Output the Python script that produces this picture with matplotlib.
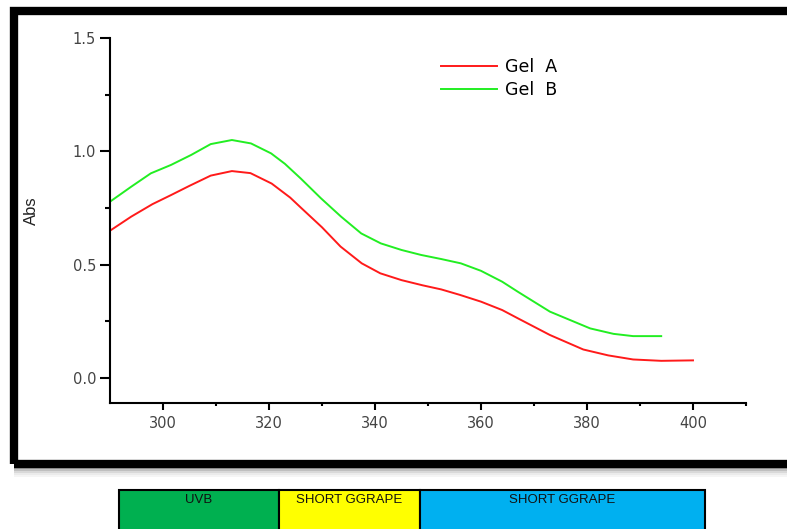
import matplotlib.pyplot as plt
from matplotlib.patches import Rectangle

plt.rcParams['font.family'] = ['Liberation Sans', 'DejaVu Sans']

W, H = 787, 529

# wavelength (nm) and absorbance
wl_a = [290, 294, 298, 301.5, 305, 309, 313, 316.5, 320.5, 324, 326, 330, 333.5,
        337.5, 341, 345, 349, 352.5, 356, 360, 364, 367, 373, 379.3, 384,
        388.7, 394, 400]
abs_a = [0.65, 0.712, 0.767, 0.807, 0.848, 0.893, 0.913, 0.904, 0.858, 0.796, 0.752, 0.665, 0.58,
         0.506, 0.462, 0.432, 0.409, 0.391, 0.367, 0.337, 0.30, 0.263, 0.19, 0.126, 0.10,
         0.082, 0.076, 0.078]

wl_b = [290, 294, 297.7, 301.5, 305.3, 309, 313, 316.6, 320.4, 323, 326, 329.8, 333.6,
        337.4, 341.1, 345, 348.7, 352.5, 356.2, 360, 364, 367, 373, 380.6, 385,
        388.7, 394]
abs_b = [0.778, 0.844, 0.903, 0.94, 0.984, 1.032, 1.05, 1.035, 0.991, 0.945, 0.88, 0.793, 0.712,
         0.638, 0.594, 0.565, 0.543, 0.525, 0.506, 0.473, 0.425, 0.38, 0.293, 0.219, 0.195,
         0.185, 0.185]

labels = ['Gel  A', 'Gel  B']
x_ticks = [300, 320, 340, 360, 380, 400]
y_ticks = [0.0, 0.5, 1.0, 1.5]

bands = ['UVB', 'SHORT GGRAPE', 'SHORT GGRAPE']
band_colors = ['#00b050', '#ffff00', '#00b0f0']
band_edges = [119, 279, 420, 705]


def px(x, y, w, h):
    # pixel box (top-left origin) -> figure fraction rect
    return (x / W, 1 - (y + h) / H, w / W, h / H)


fig = plt.figure(figsize=(W / 100, H / 100), dpi=100)

# shadow under the frame
for i, a in enumerate([0.35, 0.25, 0.15, 0.08, 0.04]):
    x0, y0, w0, h0 = px(14, 467 + i * 2, 790, 2)
    fig.add_artist(Rectangle((x0, y0), w0, h0, transform=fig.transFigure,
                             facecolor='black', alpha=a, edgecolor='none'))

# thick black frame
x0, y0, w0, h0 = px(13.5, 11, 790, 452.5)
fig.add_artist(Rectangle((x0, y0), w0, h0, transform=fig.transFigure,
                         facecolor='none', edgecolor='black', linewidth=6))

ax = fig.add_axes([110 / W, (H - 403) / H, (746 - 110) / W, (403 - 38) / H])
ax.plot(wl_a, abs_a, color='#ff1a1a', lw=1.4, label=labels[0])
ax.plot(wl_b, abs_b, color='#22ee22', lw=1.4, label=labels[1])

ax.set_xlim(290, 410)
ax.set_ylim(-0.11, 1.5)
ax.set_xticks(x_ticks)
ax.set_yticks(y_ticks)
ax.set_yticklabels([f'{v:.1f}' for v in y_ticks])
ax.set_xticks([310, 330, 350, 370, 390, 410], minor=True)
ax.set_yticks([0.25, 0.75, 1.25], minor=True)
for s in ['top', 'right']:
    ax.spines[s].set_visible(False)
for s in ['left', 'bottom']:
    ax.spines[s].set_linewidth(1.5)
ax.tick_params(which='both', direction='out', width=1.5,
               labelsize=10.5, labelcolor='#444444')
ax.tick_params(axis='x', which='major', length=5, pad=4)
ax.tick_params(axis='x', which='minor', length=2.5)
ax.tick_params(axis='y', which='major', length=7, pad=3)
ax.tick_params(axis='y', which='minor', length=3.6)
for lab in ax.get_xticklabels() + ax.get_yticklabels():
    lab.set_family('DejaVu Sans')
ax.set_ylabel('Abs', fontsize=12, color='#222222')
ax.yaxis.set_label_coords(-0.112, 0.526)

ax.legend(loc='upper left', bbox_to_anchor=(441 / W, 1 - 58 / H),
          bbox_transform=fig.transFigure, frameon=False,
          prop={'family': 'DejaVu Sans', 'size': 12.5},
          handlelength=3.2, handletextpad=0.46, labelspacing=0.3,
          borderpad=0, borderaxespad=0)

# coloured spectrum bands under the chart
for i, name in enumerate(bands):
    left = band_edges[i]
    width = band_edges[i + 1] - left
    x0, y0, w0, h0 = px(left, 490, width, 45)
    fig.add_artist(Rectangle((x0, y0), w0, h0, transform=fig.transFigure,
                             facecolor=band_colors[i], edgecolor='black', linewidth=1.5))
    fig.text((left + width / 2) / W, 1 - 494 / H, name, fontsize=9.5,
             ha='center', va='top', color='#111111')

fig.savefig('out.png', dpi=100)
